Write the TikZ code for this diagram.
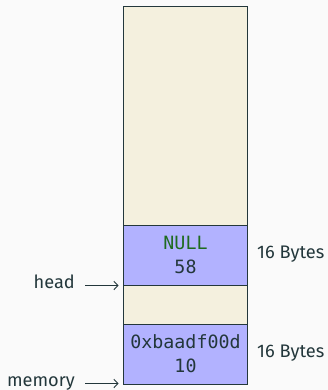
\documentclass[tikz,border=0pt]{standalone}
\usepackage{fontspec}
\setmainfont{Fira Sans}
\setmonofont{DejaVu Sans Mono}
\usetikzlibrary{arrows.meta}
\definecolor{bgc}{HTML}{FAFAFA}
\definecolor{teal}{HTML}{23373B}
\definecolor{beige}{HTML}{F4F0DE}
\definecolor{blk}{HTML}{B2B2FF}
\definecolor{nullc}{HTML}{1F6B1F}
\tikzset{
  memrect/.style={draw=teal, line width=0.9pt, fill=beige},
  blkrect/.style={draw=teal, line width=0.9pt, fill=blk, align=center, text=teal,
     font=\fontsize{18.3}{24}\selectfont\ttfamily},
  lbl/.style={text=teal, font=\fontsize{18.2}{20}\selectfont, inner sep=0pt},
  ptr/.style={draw=teal, line width=0.9pt, -{Straight Barb[length=4pt,width=8.5pt]}, shorten <=10pt},
}
\begin{document}
\begin{tikzpicture}[x=1pt,y=-1pt]
\fill[bgc] (0,0) rectangle (328,390);
\useasboundingbox (0,0) rectangle (328,390);
\draw[memrect] (123.5,6) rectangle (247.5,384);
\node[blkrect, minimum width=124pt, minimum height=60.5pt, inner sep=0pt] (b1) at (185.5,255.25) {\textcolor{nullc}{NULL}\\58};
\node[blkrect, minimum width=124pt, minimum height=60pt, inner sep=0pt] (b2) at (185.5,354) {0xbaadf00d\\10};
\node[lbl, anchor=west] (s1) at (257,254.5) {16 Bytes};
\node[lbl, anchor=west] (s2) at (257,353.5) {16 Bytes};
\node[lbl, anchor=mid east] (head) at (75,285.5) {head};
\node[lbl, anchor=mid east] (memory) at (75,383.5) {memory};
\coordinate (hp) at (118.5,285.5);
\coordinate (mp) at (118.5,383.5);
\draw[ptr] (head.mid east) -- (hp);
\draw[ptr] (memory.mid east) -- (mp);
\end{tikzpicture}
\end{document}
